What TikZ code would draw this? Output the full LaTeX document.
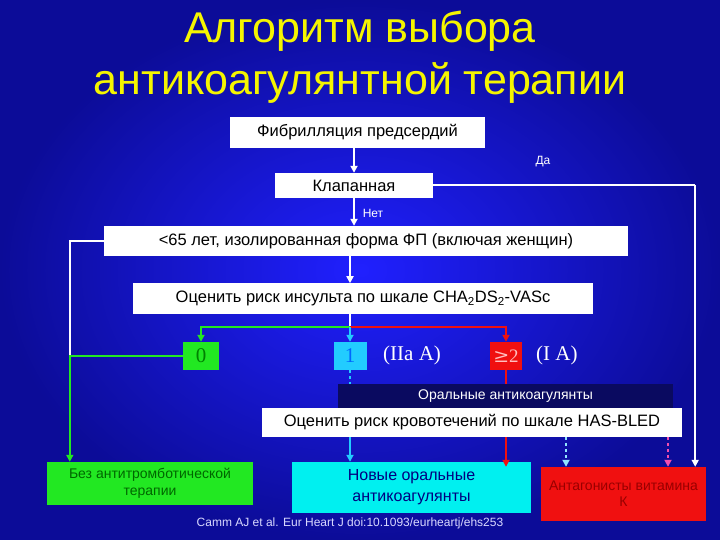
\documentclass[tikz,border=0pt]{standalone}
\usepackage{fontspec}
\setmainfont{Liberation Sans}
\newfontfamily\serifnum{Liberation Serif}
\newfontfamily\djv{DejaVu Serif}
\usetikzlibrary{arrows.meta}
\definecolor{bgin}{HTML}{2020FF}
\definecolor{bgout}{HTML}{0C0C98}
\definecolor{ttl}{HTML}{F5F500}
\definecolor{gr}{HTML}{22E822}
\definecolor{cy}{HTML}{22CCFF}
\definecolor{cy2}{HTML}{00F0F0}
\definecolor{rd}{HTML}{F01010}
\definecolor{navy}{HTML}{0A0A60}
\tikzset{
 wbox/.style={fill=white,draw=none,inner sep=0pt,font=\fontsize{16.5}{18}\selectfont},
 arr/.style={-{Triangle[length=7pt,width=7pt]},line width=2pt},
 ln/.style={line width=2pt},
 num/.style={inner sep=0pt,font=\serifnum\fontsize{21}{23}\selectfont},
}
\begin{document}
\begin{tikzpicture}[x=1pt,y=-1pt]
\useasboundingbox (0,0) rectangle (720,540);
\shade[inner color=bgin,outer color=bgout] (0,0) rectangle (720,540);
\node[text=ttl,font=\fontsize{43}{52}\selectfont,align=center] (title) at (360,57) {Алгоритм выбора\\антикоагулянтной терапии};
\node[wbox,minimum width=255pt,minimum height=31pt] (fib) at (357.5,132.5) {Фибрилляция предсердий};
\node[wbox,minimum width=158pt,minimum height=25pt] (kl) at (354,185.5) {Клапанная};
\node[wbox,minimum width=524pt,minimum height=30pt] (age) at (366,241) {<65 лет, изолированная форма ФП (включая женщин)};
\node[wbox,minimum width=460pt,minimum height=31pt] (cha) at (363,298.5) {Оценить риск инсульта по шкале CHA\textsubscript{2}DS\textsubscript{2}-VASc};
\node[text=white,font=\fontsize{12}{13}\selectfont] (da) at (543,162) {Да};
\node[text=white,font=\fontsize{12}{13}\selectfont] (net) at (373,213) {Нет};
\node[num,fill=gr,text=green!50!black,minimum width=36pt,minimum height=28pt] (z) at (201,356) {0};
\node[num,fill=cy,text=blue!60!cyan,minimum width=33pt,minimum height=28pt] (one) at (350,356) {1};
\node[num,fill=rd,text=pink,minimum width=32pt,minimum height=28pt] (two) at (506,356) {\djv\fontsize{19}{21}\selectfont≥\serifnum 2};
\node[num,text=white,anchor=west] (iia) at (383,355) {(IIa A)};
\node[num,text=white,anchor=west] (ia) at (536,355) {(I A)};
\node[fill=navy,text=white,inner sep=0pt,minimum width=335pt,minimum height=24pt,font=\fontsize{14}{16}\selectfont] (oac) at (505.5,396) {Оральные антикоагулянты};
\node[wbox,minimum width=420pt,minimum height=29pt] (hb) at (472,422.5) {Оценить риск кровотечений по шкале HAS-BLED};
\node[fill=gr,inner sep=0pt,minimum width=206pt,minimum height=43pt,align=center,text=green!40!black,font=\fontsize{14}{17}\selectfont] (none) at (150,483.5) {Без антитромботической\\терапии};
\node[fill=cy2,inner sep=0pt,minimum width=239pt,minimum height=51pt,align=center,text=blue!50!black,font=\fontsize{16}{21}\selectfont] (noac) at (411.5,487.5) {Новые оральные\\антикоагулянты};
\node[fill=rd,inner sep=0pt,minimum width=165pt,minimum height=54pt,align=center,text=red!60!black,font=\fontsize{14}{16}\selectfont] (vka) at (623.5,494) {Антагонисты витамина\\К};
\node[text=white!85!blue,font=\fontsize{12}{14}\selectfont] (cite) at (350,523) {Camm AJ et al. Eur Heart J doi:10.1093/eurheartj/ehs253};
% connectors
\coordinate (s) at (350,327);
\draw[arr,white] (fib.south-|kl.north) -- (kl.north);
\draw[arr,white] (kl.south) -- (age.north-|kl.south);
\draw[arr,white] (age.south-|cha.north) ++(-13,0) -- ++(0,27);
\draw[ln,white] (kl.east) -| ++(262,0) coordinate (rv);
\draw[arr,white] (rv) -- (rv|-vka.north);
\draw[ln,white] (age.west) -- ++(-34,0) coordinate (lv) -- (lv|-z.west);
\draw[arr,gr] (z.west) -| (lv|-none.north);
\draw[ln,white] (cha.south-|one.north) -- (s);
\draw[arr,gr] (s) -| (z.north);
\draw[arr,rd] (s) -| (two.north);
\draw[arr,cy] (s) -- (one.north);
\draw[ln,cy,dashed] (one.south) -- (oac.north-|one.south);
\draw[ln,rd] (two.south) -- (oac.north-|two.south);
\draw[arr,cy] (hb.south-|one.south) -- (noac.north-|one.south);
\draw[arr,rd] (hb.south-|two.south) -- (vka.north-|two.south);
\draw[arr,cy!50!white,dashed] (hb.south-|566,0) -- (vka.north-|566,0);
\draw[arr,magenta!70!white,dashed] (hb.south-|668,0) -- (vka.north-|668,0);
\end{tikzpicture}
\end{document}
